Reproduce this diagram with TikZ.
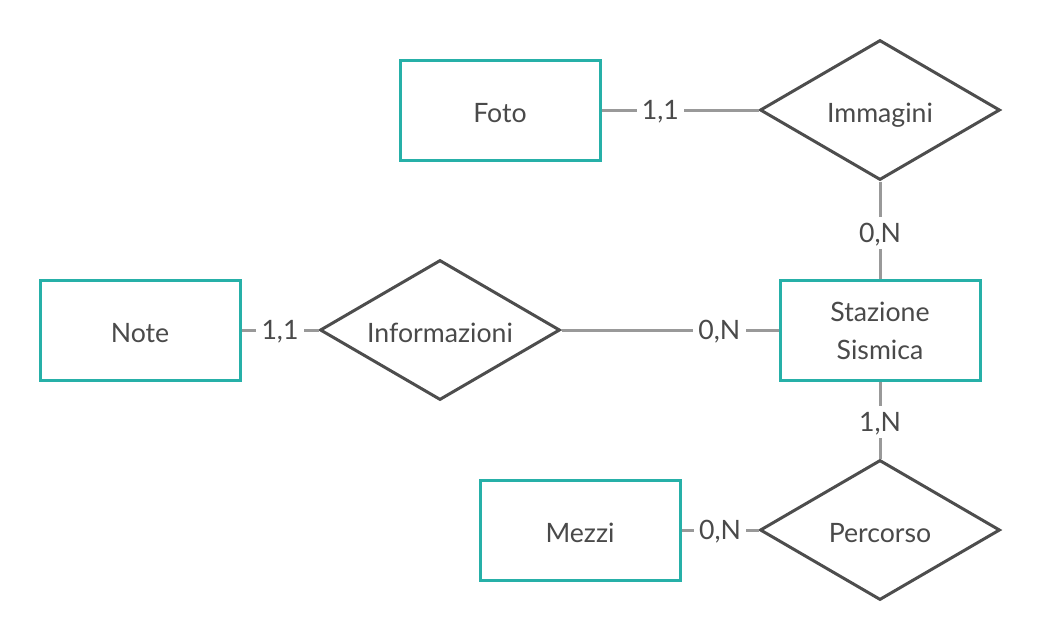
\documentclass[tikz,border=0pt]{standalone}
\usepackage{fontspec}
\setmainfont{Lato}
\usetikzlibrary{shapes.geometric}
\definecolor{teal}{HTML}{26B0A8}
\definecolor{dgray}{HTML}{4D4D4D}
\definecolor{lgray}{HTML}{999999}
\definecolor{txt}{HTML}{4A4A4A}
\tikzset{
  entity/.style={draw=teal, line width=2.25pt, fill=white, minimum width=150pt, minimum height=75pt, inner sep=0pt, text=txt, font=\fontsize{20}{28.5}\selectfont, align=center},
  oneline/.style={text height=18pt, text depth=0pt},
  relation/.style={draw=dgray, line width=2.25pt, fill=white, diamond, minimum width=180pt, minimum height=105pt, inner sep=0pt, text=txt, font=\fontsize{20}{28.5}\selectfont, text height=19pt, text depth=0pt},
  conn/.style={draw=lgray, line width=2.25pt},
  card/.style={fill=white, text=txt, inner sep=4pt, font=\fontsize{20}{24}\selectfont, text height=15pt, text depth=1pt}
}
\begin{document}
\begin{tikzpicture}[x=0.75pt,y=-0.75pt]
\useasboundingbox (0,0) rectangle (1040,640);
\node[entity, oneline] (foto) at (500,110) {Foto};
\node[relation] (imm) at (880,110) {\makebox[0pt]{Immagini}};
\node[entity, oneline] (note) at (140,330) {Note};
\node[relation] (info) at (440,330) {\makebox[0pt]{Informazioni}};
\node[entity] (staz) at (880,330) {\raisebox{0pt}[16pt][0pt]{Stazione}\\Sismica};
\node[entity, oneline] (mezzi) at (580,530) {Mezzi};
\node[relation] (perc) at (880,530) {\makebox[0pt]{Percorso}};
\draw[conn] (foto.east) -- node[card, pos=0.375] {1,1} (imm.west);
\draw[conn] (imm.south) -- node[card, pos=0.53] {0,N} (staz.north);
\draw[conn] (note.east) -- node[card, pos=0.5] {1,1} (info.west);
\draw[conn] (info.east) -- node[card, pos=0.727] {0,N} (staz.west);
\draw[conn] (staz.south) -- node[card, pos=0.525] {1,N} (perc.north);
\draw[conn] (mezzi.east) -- node[card, pos=0.5] {0,N} (perc.west);
\end{tikzpicture}
\end{document}
